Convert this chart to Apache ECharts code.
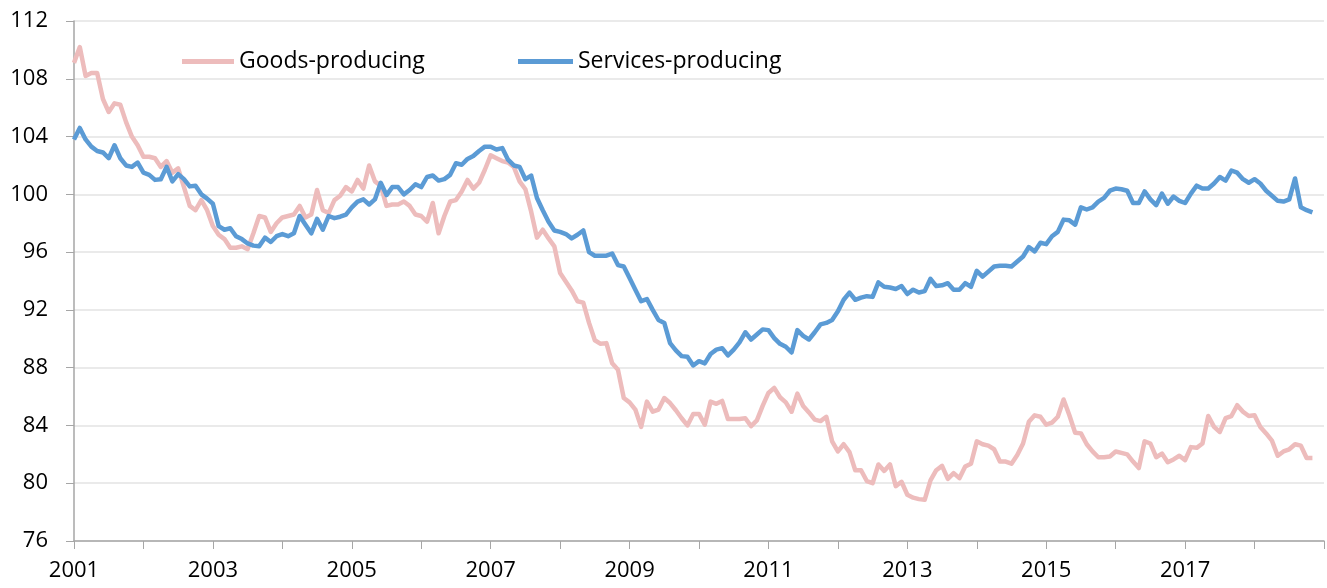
<!DOCTYPE html>
<html>
<head>
<meta charset="utf-8">
<script src="https://cdn.jsdelivr.net/npm/echarts@6/dist/echarts.min.js"></script>
<style>
html,body{margin:0;padding:0;background:#fff;}
#chart{width:1327px;height:588px;}
</style>
</head>
<body>
<div id="chart"></div>
<script>
// Monthly index values, Jan 2001 - Nov 2018
const goodsProducing = [
  109.1, 110.2, 108.2, 108.4, 108.4, 106.6, 105.7, 106.3, 106.2, 105.0, 104.0, 103.4,
  102.6, 102.6, 102.5, 101.9, 102.3, 101.5, 101.8, 100.5, 99.2, 98.9, 99.6, 98.9,
  97.8, 97.2, 96.9, 96.3, 96.3, 96.4, 96.2, 97.3, 98.5, 98.4, 97.4, 98.0,
  98.4, 98.5, 98.6, 99.2, 98.4, 98.6, 100.3, 98.9, 98.7, 99.6, 99.9, 100.5,
  100.2, 101.0, 100.4, 102.0, 100.9, 100.6, 99.2, 99.3, 99.3, 99.5, 99.2, 98.6,
  98.5, 98.1, 99.4, 97.3, 98.5, 99.5, 99.6, 100.2, 101.0, 100.4, 100.8, 101.7,
  102.7, 102.5, 102.3, 102.2, 101.9, 100.9, 100.35, 98.8, 97.0, 97.55, 96.95, 96.4,
  94.55, 93.95, 93.35, 92.6, 92.5, 91.1, 89.9, 89.65, 89.7, 88.3, 87.85, 85.9,
  85.6, 85.1, 83.9, 85.65, 84.95, 85.1, 85.9, 85.55, 85.05, 84.5, 84.0, 84.8,
  84.8, 84.05, 85.65, 85.5, 85.7, 84.45, 84.45, 84.45, 84.5, 83.95, 84.35, 85.35,
  86.25, 86.6, 85.95, 85.6, 84.95, 86.2, 85.35, 84.9, 84.4, 84.3, 84.6, 82.9,
  82.2, 82.7, 82.15, 80.9, 80.9, 80.15, 80.0, 81.3, 80.85, 81.3, 79.8, 80.1,
  79.2, 79.0, 78.9, 78.85, 80.2, 80.9, 81.2, 80.3, 80.7, 80.35, 81.15, 81.35,
  82.9, 82.7, 82.6, 82.35, 81.5, 81.5, 81.35, 81.95, 82.75, 84.25, 84.7, 84.6,
  84.05, 84.2, 84.6, 85.8, 84.7, 83.5, 83.45, 82.7, 82.2, 81.8, 81.8, 81.85,
  82.2, 82.1, 82.0, 81.5, 81.05, 82.9, 82.75, 81.8, 82.05, 81.45, 81.65, 81.9,
  81.6, 82.5, 82.45, 82.75, 84.65, 83.9, 83.55, 84.5, 84.65, 85.4, 84.95, 84.65,
  84.7, 83.9, 83.45, 82.95, 81.9, 82.2, 82.35, 82.7, 82.6, 81.75, 81.75
];
const servicesProducing = [
  103.8, 104.6, 103.8, 103.3, 103.0, 102.9, 102.5, 103.4, 102.5, 102.0, 101.9, 102.2,
  101.5, 101.35, 101.0, 101.05, 101.9, 100.9, 101.4, 101.05, 100.55, 100.6, 100.0, 99.7,
  99.35, 97.8, 97.55, 97.65, 97.1, 96.9, 96.6, 96.45, 96.4, 97.0, 96.7, 97.1,
  97.25, 97.1, 97.3, 98.5, 97.9, 97.3, 98.3, 97.55, 98.5, 98.35, 98.45, 98.6,
  99.1, 99.5, 99.65, 99.3, 99.65, 100.8, 99.95, 100.5, 100.5, 100.0, 100.3, 100.7,
  100.5, 101.2, 101.3, 100.95, 101.05, 101.35, 102.15, 102.05, 102.45, 102.65, 103.0, 103.3,
  103.3, 103.1, 103.2, 102.4, 102.0, 101.9, 101.05, 101.3, 99.75, 98.9, 98.1, 97.5,
  97.4, 97.25, 96.95, 97.2, 97.5, 96.0, 95.75, 95.75, 95.75, 95.9, 95.1, 95.0,
  94.2, 93.4, 92.6, 92.75, 92.0, 91.3, 91.1, 89.7, 89.2, 88.8, 88.75, 88.15,
  88.45, 88.3, 88.95, 89.25, 89.35, 88.85, 89.25, 89.75, 90.45, 89.95, 90.3, 90.65,
  90.6, 90.05, 89.65, 89.45, 89.05, 90.6, 90.2, 89.95, 90.45, 91.0, 91.1, 91.3,
  91.9, 92.7, 93.2, 92.7, 92.85, 92.95, 92.9, 93.9, 93.6, 93.55, 93.45, 93.65,
  93.1, 93.4, 93.2, 93.3, 94.15, 93.65, 93.7, 93.85, 93.4, 93.4, 93.85, 93.6,
  94.7, 94.3, 94.65, 95.0, 95.05, 95.05, 95.0, 95.35, 95.7, 96.35, 96.05, 96.65,
  96.55, 97.1, 97.4, 98.25, 98.2, 97.9, 99.1, 98.95, 99.1, 99.5, 99.75, 100.25,
  100.4, 100.35, 100.25, 99.4, 99.4, 100.2, 99.65, 99.25, 100.05, 99.35, 99.85, 99.55,
  99.4, 100.05, 100.6, 100.4, 100.4, 100.75, 101.2, 100.95, 101.65, 101.5, 101.05, 100.8,
  101.05, 100.75, 100.25, 99.9, 99.55, 99.5, 99.65, 101.1, 99.1, 98.9, 98.75
];
const firstYear = 2001;
const lastYear = 2019;
const seriesNames = ['Goods-producing', 'Services-producing'];
const yTicks = { min: 76, max: 112, step: 4 };

// Month categories from Jan 2001 through Jan 2019 (axis end)
const months = [];
for (let y = firstYear; y <= lastYear; y++) {
  for (let m = 1; m <= 12; m++) {
    if (y === lastYear && m > 1) break;
    months.push(y + '-' + (m < 10 ? '0' + m : m));
  }
}
const lastIndex = months.length - 1;

const FONT = '"Open Sans", "Noto Sans", sans-serif';
const chart = echarts.init(document.getElementById('chart'), null, { renderer: 'canvas' });
chart.setOption({
  animation: false,
  backgroundColor: '#ffffff',
  textStyle: { fontFamily: FONT },
  grid: { left: 74, right: 3, top: 21, bottom: 47, containLabel: false },
  legend: [
    {
      data: [seriesNames[0]],
      left: 182, top: 50, padding: 0,
      icon: 'rect', itemWidth: 52, itemHeight: 5, itemGap: 6,
      textStyle: { fontFamily: FONT, fontSize: 23, color: '#000' }
    },
    {
      data: [seriesNames[1]],
      left: 518, top: 50, padding: 0,
      icon: 'rect', itemWidth: 55, itemHeight: 5,
      textStyle: { fontFamily: FONT, fontSize: 23, color: '#000' }
    }
  ],
  xAxis: {
    type: 'category',
    data: months,
    boundaryGap: false,
    axisLine: { show: true, lineStyle: { color: '#A6A6A6', width: 1.5 } },
    axisTick: {
      show: true, length: 8, inside: false,
      interval: function (idx) { return idx % 12 === 0; },
      lineStyle: { color: '#A6A6A6', width: 1 }
    },
    axisLabel: {
      interval: function (idx) { return idx % 24 === 0 && idx < lastIndex; },
      formatter: function (v) { return v.slice(0, 4); },
      fontFamily: FONT, fontSize: 22, color: '#000', margin: 19
    },
    splitLine: { show: false }
  },
  yAxis: {
    type: 'value',
    min: yTicks.min, max: yTicks.max, interval: yTicks.step,
    axisLine: { show: true, lineStyle: { color: '#A6A6A6', width: 1.5 } },
    axisTick: { show: true, length: 8, inside: false, lineStyle: { color: '#A6A6A6' } },
    axisLabel: { fontFamily: FONT, fontSize: 22, color: '#000', margin: 26 },
    splitLine: { show: true, lineStyle: { color: '#E3E3E3', width: 1.5 } }
  },
  series: [
    {
      name: seriesNames[0], type: 'line', data: goodsProducing,
      showSymbol: false, symbol: 'none',
      lineStyle: { color: '#EDBCBC', width: 4.5, join: 'round' },
      itemStyle: { color: '#EDBCBC' }, z: 2
    },
    {
      name: seriesNames[1], type: 'line', data: servicesProducing,
      showSymbol: false, symbol: 'none',
      lineStyle: { color: '#5B9BD5', width: 4.5, join: 'round' },
      itemStyle: { color: '#5B9BD5' }, z: 3
    }
  ]
});
</script>
</body>
</html>
